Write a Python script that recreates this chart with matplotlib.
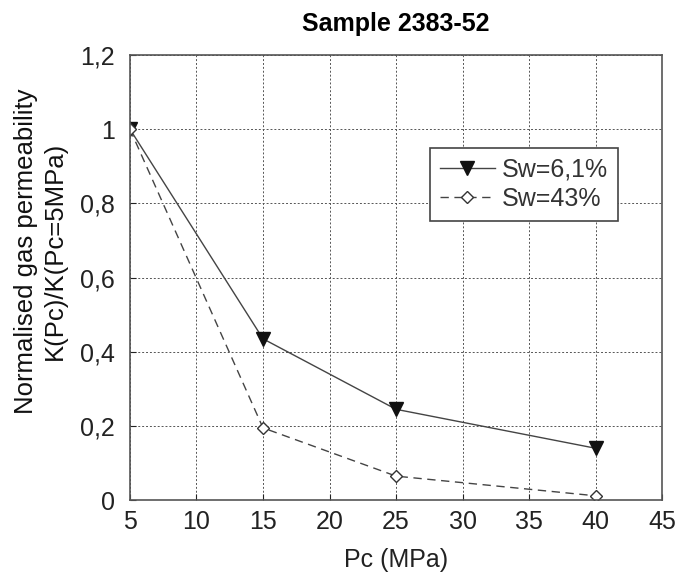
import matplotlib
matplotlib.use("Agg")
import matplotlib.pyplot as plt

plt.rcParams['font.family'] = ['Liberation Sans', 'DejaVu Sans']

pc = [5, 15, 25, 40]
sw61 = [1.0, 0.435, 0.245, 0.14]
sw43 = [1.0, 0.195, 0.065, 0.012]
xticks = [5, 10, 15, 20, 25, 30, 35, 40, 45]
yticks = [0, 0.2, 0.4, 0.6, 0.8, 1.0, 1.2]
ylabels = ['0', '0,2', '0,4', '0,6', '0,8', '1', '1,2']

fig = plt.figure(figsize=(6.8, 5.77), dpi=100)
ax = fig.add_axes([0.191, 0.133, 0.783, 0.772])

ax.plot(pc, sw61, '-', color='#444444', lw=1.0, marker='v', ms=10,
        mfc='#111111', mec='#111111', label='Sw=6,1%')
ax.plot(pc, sw43, '--', color='#444444', lw=1.0, dashes=(6, 4), marker='D', ms=6,
        mfc='white', mec='#333333', mew=1.0, label='Sw=43%')

ax.set_xlim(5, 45)
ax.set_ylim(0, 1.2)
ax.set_xticks(xticks)
ax.set_xticklabels([str(t) for t in xticks])
ax.set_yticks(yticks)
ax.set_yticklabels(ylabels)
ax.tick_params(labelsize=18, colors='#222222', direction='in', length=4)
ax.tick_params(axis='x', pad=7)
ax.tick_params(axis='y', pad=11)
ax.grid(True, color='#555555', linestyle=(0, (2, 2)), lw=0.7)
for s in ax.spines.values():
    s.set_color('#555555')
    s.set_linewidth(1.2)

ax.set_title('Sample 2383-52', fontsize=18, fontweight='bold', pad=17)
ax.set_xlabel('Pc (MPa)', fontsize=18, labelpad=10, color='#222222')
ax.set_ylabel('Normalised gas permeability\nK(Pc)/K(Pc=5MPa)', fontsize=18.5,
              color='#111111', linespacing=1.25)
ax.yaxis.set_label_coords(-0.118, 0.56)

leg = ax.legend(loc='upper right', bbox_to_anchor=(0.917, 0.791), fontsize=18,
                fancybox=False, framealpha=1, edgecolor='#444444',
                handlelength=2.2, handletextpad=0.3, borderpad=0.4, labelspacing=0.2,
                borderaxespad=0)
leg.get_frame().set_linewidth(1.2)
for t in leg.get_texts():
    t.set_color('#333333')

fig.savefig('out.png', dpi=100)
